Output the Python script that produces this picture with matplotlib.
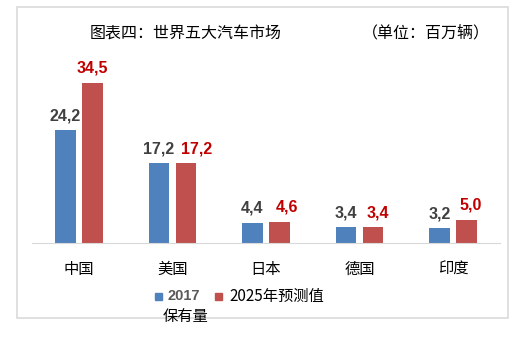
import matplotlib
matplotlib.use("Agg")
import matplotlib.pyplot as plt
from matplotlib.patches import Rectangle
import numpy as np

plt.rcParams['font.family'] = ['Noto Sans CJK SC', 'DejaVu Sans']

countries = ["中国", "美国", "日本", "德国", "印度"]
stock_2017 = [24.2, 17.2, 4.4, 3.4, 3.2]
forecast_2025 = [34.5, 17.2, 4.6, 3.4, 5.0]
# label nudges (points) the original applied to the 2025 labels
red_dx = [0, 8, 5, 3, 3]

blue = "#4F81BD"
red = "#C0504D"

W, H = 531, 339
fig = plt.figure(figsize=(W / 100, H / 100), dpi=100)

# outer frame
fig.patches.append(Rectangle((17 / W, 1 - 318 / H), (508 - 17) / W, (318 - 7) / H,
                             transform=fig.transFigure, fill=False,
                             edgecolor="#DADADA", linewidth=1.2))

ax = fig.add_axes([32 / W, 96 / H, (500 - 32) / W, 186 / H])
x = np.arange(len(countries))
bw = 0.22
ax.bar(x - 0.145, stock_2017, bw, color=blue)
ax.bar(x + 0.145, forecast_2025, bw, color=red)
ax.set_xlim(-0.5, len(countries) - 0.5)
ax.set_ylim(0, 40)

for i in range(len(countries)):
    ax.annotate(f"{stock_2017[i]:.1f}".replace(".", ","), (x[i] - 0.145, stock_2017[i]),
                xytext=(0, 5), textcoords="offset points",
                ha="center", va="bottom", fontsize=11.5, fontweight="bold",
                color="#404040", family="Liberation Sans")
    ax.annotate(f"{forecast_2025[i]:.1f}".replace(".", ","), (x[i] + 0.145, forecast_2025[i]),
                xytext=(red_dx[i], 5), textcoords="offset points",
                ha="center", va="bottom", fontsize=11.5, fontweight="bold",
                color="#C00000", family="Liberation Sans")

for s in ["top", "right", "left"]:
    ax.spines[s].set_visible(False)
ax.spines["bottom"].set_color("#D9D9D9")
ax.set_yticks([])
ax.set_xticks(x)
ax.set_xticklabels(countries, fontsize=11)
ax.tick_params(axis="x", length=0, pad=13)

fig.text(90 / W, 1 - 33 / H, "图表四：世界五大汽车市场", fontsize=11.5, va="center", ha="left")
fig.text(362 / W, 1 - 33 / H, "（单位：百万辆）", fontsize=11.5, va="center", ha="left")

# legend
fig.patches.append(Rectangle((155 / W, 1 - 300 / H), 7 / W, 7 / H,
                             transform=fig.transFigure, color=blue))
fig.text(167 / W, 1 - 296 / H, "2017", fontsize=10.5, fontweight="bold",
         color="#595959", va="center", ha="left", family="Liberation Sans")
fig.text(163 / W, 1 - 316 / H, "保有量", fontsize=11, va="center", ha="left")
fig.patches.append(Rectangle((215 / W, 1 - 300 / H), 7 / W, 7 / H,
                             transform=fig.transFigure, color=red))
fig.text(229 / W, 1 - 296 / H, "2025年预测值", fontsize=11, va="center", ha="left")

fig.savefig("out.png", dpi=100)
